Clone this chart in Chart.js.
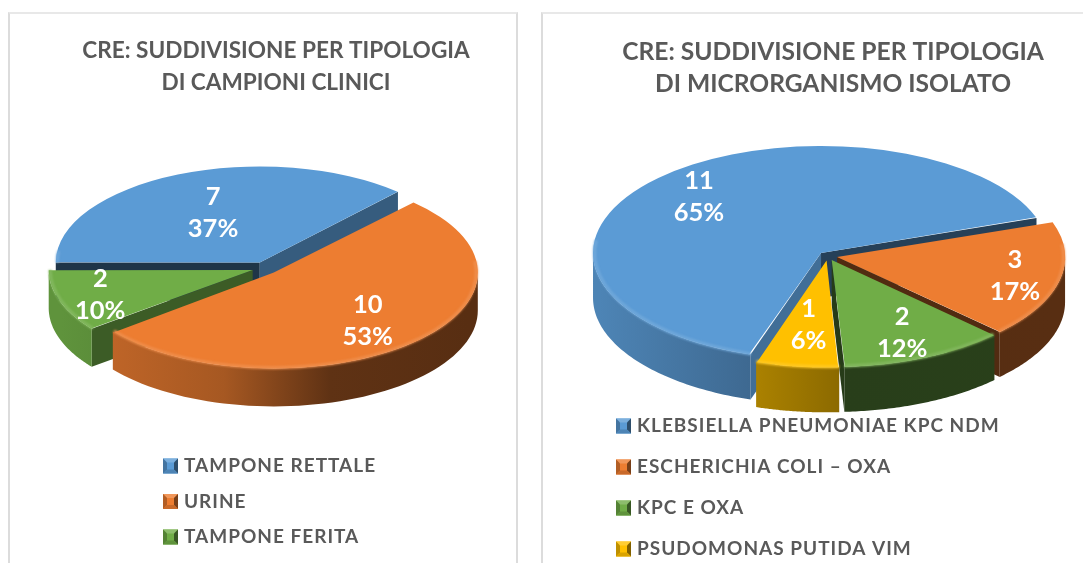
<!DOCTYPE html>
<html><head><meta charset="utf-8">
<style>
html,body{margin:0;padding:0;background:#fff;width:1083px;height:563px;overflow:hidden}
.panel{position:absolute;box-sizing:border-box;background:#fff}
#p1{left:8px;top:12px;width:510px;height:560px;border:2px solid #dcdcdc;border-top-color:#e8e8e8;border-bottom:none}
#p2{left:541px;top:12px;width:560px;height:560px;border:2px solid #dcdcdc;border-top-color:#e8e8e8;border-bottom:none}
canvas{position:absolute;top:0;filter:blur(.35px)}
#c1{left:0}
#c2{left:583px}
</style>
<script src="https://cdn.jsdelivr.net/npm/chart.js@4/dist/chart.umd.min.js"></script>
</head><body>
<div class="panel" id="p1"></div><div class="panel" id="p2"></div>
<div style="position:absolute;left:0;top:0;width:552px;height:563px"><canvas id="c1" width="552" height="563"></canvas></div>
<div style="position:absolute;left:0;top:0;width:1083px;height:563px"><canvas id="c2" width="500" height="563"></canvas></div>
<script>
const leftTitle = ['CRE: SUDDIVISIONE PER TIPOLOGIA', 'DI CAMPIONI CLINICI'];
const leftCategories = ['TAMPONE RETTALE', 'URINE', 'TAMPONE FERITA'];
const leftValues = [7, 10, 2];
const leftPercents = ['37%', '53%', '10%'];
const leftColors = ['#5b9bd5', '#ed7d31', '#70ad47'];

const rightTitle = ['CRE: SUDDIVISIONE PER TIPOLOGIA', 'DI MICRORGANISMO ISOLATO'];
const rightCategories = ['KLEBSIELLA PNEUMONIAE KPC NDM', 'ESCHERICHIA COLI – OXA', 'KPC E OXA', 'PSUDOMONAS PUTIDA VIM'];
const rightValues = [11, 3, 2, 1];
const rightPercents = ['65%', '17%', '12%', '6%'];
const rightColors = ['#5b9bd5', '#ed7d31', '#70ad47', '#ffc000'];

function rgb(hex){return [1,3,5].map(i=>parseInt(hex.substr(i,2),16));}
function shade(hex,f){const c=rgb(hex).map(v=>Math.round(Math.min(255,v*f)));return `rgb(${c[0]},${c[1]},${c[2]})`;}
function tint(hex,t){const c=rgb(hex).map(v=>Math.round(v+(255-v)*t));return `rgb(${c[0]},${c[1]},${c[2]})`;}

function geometry(chart,o){
  const meta=chart.getDatasetMeta(0), e=o.explode, k=o.squash;
  return meta.data.map((arc,i)=>{
    const mid=(arc.startAngle+arc.endAngle)/2;
    return {i,arc,mid,start:arc.startAngle,end:arc.endAngle,
      cx:o.cx+Math.cos(mid)*e, cy:o.cy+Math.sin(mid)*e*k, r:meta.controller.outerRadius};
  });
}
function frontIntervals(a,b,lim){
  const out=[], two=Math.PI*2;
  for(let n=-2;n<=3;n++){
    const s=Math.max(a,n*two-lim), t=Math.min(b,n*two+Math.PI+lim);
    if(t>s) out.push([s,t]);
  }
  return out;
}
const pie3d={
  id:'pie3d',
  beforeDatasetsDraw(chart,args,o){
    const ctx=chart.ctx,k=o.squash,d=o.depth;
    const parts=geometry(chart,o).sort((p,q)=>p.cy-q.cy);
    parts.forEach(p=>{
      const col=chart.data.datasets[0].backgroundColor[p.i];
      const ex=a=>[p.cx+Math.cos(a)*p.r,p.cy+Math.sin(a)*p.r*k];
      [[p.start,-1],[p.end,1]].forEach(([a,sgn])=>{
        const nx=-Math.sin(a)*sgn, ny=Math.cos(a)*sgn;
        if(ny<=0) return;
        const [x,y]=ex(a);
        ctx.beginPath();ctx.moveTo(p.cx,p.cy);ctx.lineTo(x,y);ctx.lineTo(x,y+d);ctx.lineTo(p.cx,p.cy+d);ctx.closePath();
        ctx.fillStyle=shade(col,.34+.4*Math.pow(Math.max(0,nx),1.5));ctx.fill();
      });
      const g=ctx.createLinearGradient(o.cx-p.r,0,o.cx+p.r,0);
      o.wallStops.forEach(([t,f])=>g.addColorStop(t,shade(col,f)));
      frontIntervals(p.start,p.end,0).forEach(([s,t])=>{
        ctx.beginPath();
        const n=60;
        for(let j=0;j<=n;j++){const[x,y]=ex(s+(t-s)*j/n);j?ctx.lineTo(x,y):ctx.moveTo(x,y);}
        for(let j=n;j>=0;j--){const[x,y]=ex(s+(t-s)*j/n);ctx.lineTo(x,y+d);}
        ctx.closePath();ctx.fillStyle=g;ctx.fill();
      });
    });
  },
  beforeDatasetDraw(chart,args,o){
    const meta=chart.getDatasetMeta(0),ctx=chart.ctx;
    const base=meta.controller.outerRadius;
    meta.data.forEach(arc=>{
      const c=arc.endAngle-arc.startAngle;
      const fix=1-Math.sin(Math.min(Math.PI,c));
      arc.outerRadius=base-(arc.options.offset||0)/4*fix;
    });
    const a=meta.data[0];
    ctx.save();
    ctx.translate(o.cx,o.cy);ctx.scale(1,o.squash);ctx.translate(-a.x,-a.y);
  },
  afterDatasetDraw(chart){chart.ctx.restore();},
  afterDatasetsDraw(chart,args,o){
    const ctx=chart.ctx,k=o.squash;
    const ds=chart.data.datasets[0];
    geometry(chart,o).forEach(p=>{
      const col=ds.backgroundColor[p.i];
      frontIntervals(p.start,p.end,.12).forEach(([s,t])=>{
        ctx.save();
        ctx.beginPath();
        ctx.ellipse(p.cx,p.cy,p.r-1.5,(p.r-1.5)*k,0,s,t);
        ctx.strokeStyle=tint(col,.13);ctx.lineWidth=3;ctx.filter='blur(1px)';ctx.stroke();
        ctx.restore();
      });
    });
    geometry(chart,o).forEach(p=>{
      const f=o.labelAt[p.i];
      const x=p.cx+Math.cos(p.mid)*p.r*f, y=p.cy+Math.sin(p.mid)*p.r*f*k;
      ctx.save();
      ctx.fillStyle='#fff';ctx.font=o.labelFont;ctx.textAlign='center';ctx.textBaseline='middle';
      ctx.fillText(String(ds.data[p.i]),x,y-o.labelGap/2);
      ctx.fillText(o.percents[p.i],x,y+o.labelGap/2);
      ctx.restore();
    });
  },
  afterLayout(chart,args,o){
    const l=chart.legend, pad=l.options.labels.padding;
    l.left=o.legendX-pad; l.right=chart.width;
    l.top=o.legendY-l.options.labels.font.size/2-pad; l.bottom=l.top+600;
    if(!l._spaced){
      const draw=l.draw.bind(l);
      l.draw=function(){
        const ctx=chart.ctx;
        ctx.save();ctx.letterSpacing=o.legendSpacing;draw();ctx.restore();
      };
      l._spaced=true;
    }
  },
  afterDraw(chart,args,o){
    const ctx=chart.ctx,s=o.legendBox;
    chart.legend.legendHitBoxes.forEach((h,i)=>{
      const col=chart.data.datasets[0].backgroundColor[i];
      const x=h.left,y=h.top+h.height/2-s/2,b=4;
      const poly=(pts,c)=>{ctx.beginPath();pts.forEach((q,j)=>j?ctx.lineTo(q[0],q[1]):ctx.moveTo(q[0],q[1]));ctx.closePath();ctx.fillStyle=c;ctx.fill();};
      ctx.save();
      ctx.fillStyle=col;ctx.fillRect(x,y,s,s);
      poly([[x,y],[x+s,y],[x+s-b,y+b],[x+b,y+b]],tint(col,.2));
      poly([[x,y],[x+b,y+b],[x+b,y+s-b],[x,y+s]],shade(col,.75));
      poly([[x+s,y],[x+s-b,y+b],[x+s-b,y+s-b],[x+s,y+s]],shade(col,.5));
      poly([[x,y+s],[x+b,y+s-b],[x+s-b,y+s-b],[x+s,y+s]],shade(col,.85));
      ctx.restore();
    });
  }
};

function build(id,title,cats,vals,cols,pct,cfg){
  return new Chart(document.getElementById(id),{
    type:'pie',
    data:{labels:cats,datasets:[{data:vals,backgroundColor:cols,borderWidth:0,offset:cfg.explode*4,clip:false}]},
    plugins:[pie3d],
    options:{
      responsive:false,animation:false,events:[],
      rotation:cfg.rotation,radius:cfg.radius,
      layout:{padding:0},
      plugins:{
        tooltip:{enabled:false},
        title:{display:true,text:title,color:'#595959',
          font:{family:'Lato',weight:'bold',size:cfg.titleSize,lineHeight:32/cfg.titleSize},
          padding:{top:cfg.titleTop,bottom:0}},
        legend:{display:true,position:'left',align:'start',
          labels:{color:'#595959',boxWidth:11.5,boxHeight:12,padding:cfg.legendStep-cfg.legendSize,
            font:{family:'Lato',weight:'bold',size:cfg.legendSize}}},
        pie3d:{cx:cfg.cx,cy:cfg.cy,squash:cfg.squash,depth:cfg.depth,explode:cfg.explode,
          wallStops:cfg.wallStops,labelAt:cfg.labelAt,labelFont:'bold 25.5px Lato',labelGap:32,
          percents:pct,legendX:cfg.legendX,legendY:cfg.legendY,legendBox:15,legendSpacing:'1px'}
      }
    }
  });
}
build('c1',leftTitle,leftCategories,leftValues,leftColors,leftPercents,{
  rotation:270,radius:204,cx:265,cy:268,squash:.47,depth:38,explode:13,
  wallStops:[[0,.85],[.4,.7],[.66,.4],[1,.37]],labelAt:[.57,.68,.79],
  titleSize:22.6,titleTop:35,legendSize:19,legendStep:35.5,legendX:163,legendY:466});
build('c2',rightTitle,rightCategories,rightValues,rightColors,rightPercents,{
  rotation:198,radius:228,cx:827.8-583,cy:256,squash:.469,depth:45,explode:9.5,
  wallStops:[[0,.85],[.33,.68],[.524,.55],[.531,.36],[1,.37]],labelAt:[.75,.80,.75,.61],
  titleSize:24.6,titleTop:36,legendSize:19,legendStep:41,legendX:616-583,legendY:426});
</script>
</body></html>
